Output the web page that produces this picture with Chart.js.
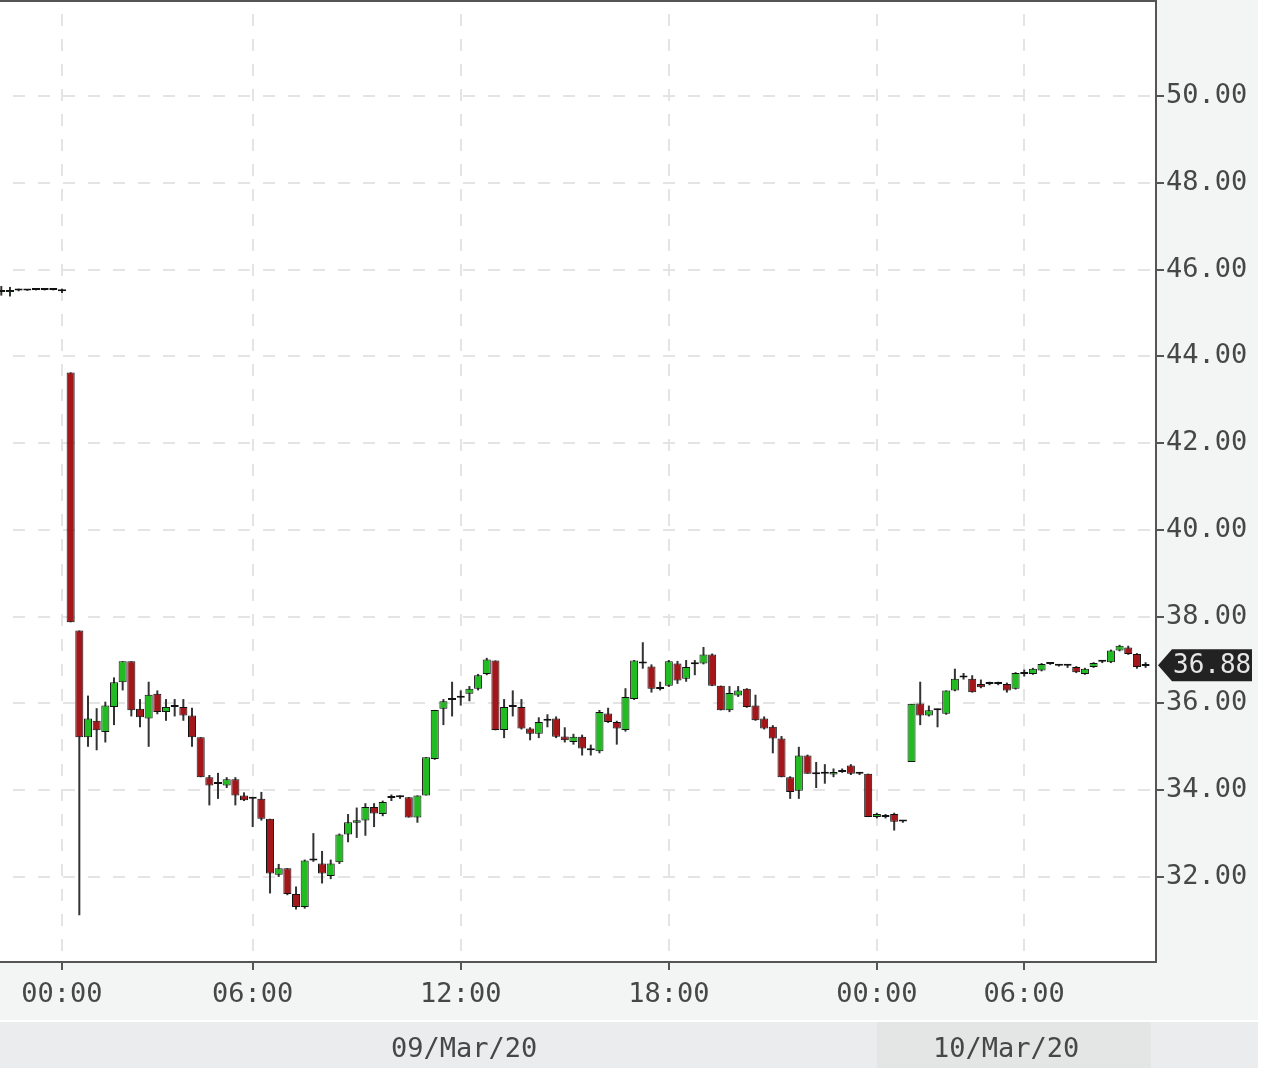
<!DOCTYPE html>
<html>
<head>
<meta charset="utf-8">
<script src="https://cdn.jsdelivr.net/npm/chart.js@4.4.1/dist/chart.umd.min.js"></script>
<style>
  html, body { margin: 0; padding: 0; background: #fff; }
  #wrap { position: relative; width: 1258px; height: 1068px; }
</style>
</head>
<body>
<div id="wrap"><canvas id="priceChart"></canvas></div>
<script>
// 15-minute candles; slot 0 is 00:00 on 09/Mar/20, one slot per candle
const firstSlot = -7;

const opens = [
  45.52, 45.48, 45.53, 45.52, 45.53, 45.54, 45.53, 45.53,
  43.63, 37.68, 35.22, 35.60, 35.34, 35.92, 36.49, 36.97, 35.88, 35.65,
  36.22, 35.80, 35.94, 35.92, 35.72, 35.22, 34.30, 34.15, 34.11, 34.25,
  33.88, 33.80, 33.80, 33.34, 32.05, 32.20, 31.61, 31.31, 32.38, 32.31,
  32.02, 32.34, 32.98, 33.25, 33.30, 33.61, 33.45, 33.82, 33.84, 33.84,
  33.37, 33.88, 34.72, 35.88, 36.08, 36.13, 36.22, 36.34, 36.68, 36.99,
  35.39, 35.92, 35.92, 35.42, 35.30, 35.60, 35.65, 35.24, 35.11, 35.23,
  34.94, 34.90, 35.77, 35.57, 35.39, 36.10, 36.95, 36.85, 36.33, 36.41,
  36.92, 36.57, 36.90, 36.92, 37.13, 36.41, 35.84, 36.18, 36.34, 35.95,
  35.65, 35.46, 35.19, 34.30, 33.99, 34.80, 34.38, 34.38, 34.36, 34.42,
  34.57, 34.38, 34.38, 33.38, 33.38, 33.45, 33.28, 34.65, 36.00, 35.72,
  35.84, 35.76, 36.30, 36.62, 36.57, 36.45, 36.45, 36.45, 36.45, 36.34,
  36.70, 36.68, 36.76, 36.91, 36.89, 36.87, 36.84, 36.68, 36.84, 36.96,
  36.95, 37.22, 37.29, 37.14, 36.86
];
const highs = [
  45.62, 45.60, 45.56, 45.55, 45.55, 45.55, 45.55, 45.56,
  43.63, 37.68, 36.18, 35.89, 36.04, 36.60, 36.97, 36.97, 36.10, 36.50,
  36.30, 36.10, 36.10, 36.10, 35.90, 35.22, 34.35, 34.40, 34.30, 34.30,
  33.95, 33.83, 33.96, 33.34, 32.30, 32.20, 31.78, 32.40, 33.01, 32.60,
  32.40, 33.00, 33.45, 33.60, 33.70, 33.70, 33.76, 33.90, 33.88, 33.84,
  33.88, 34.76, 35.85, 36.10, 36.50, 36.30, 36.40, 36.68, 37.05, 36.99,
  36.10, 36.30, 36.10, 35.45, 35.68, 35.75, 35.70, 35.45, 35.30, 35.28,
  35.05, 35.85, 35.90, 35.60, 36.35, 37.00, 37.41, 36.90, 36.50, 37.00,
  36.98, 37.00, 37.00, 37.30, 37.15, 36.41, 36.40, 36.40, 36.35, 36.20,
  35.70, 35.50, 35.25, 34.32, 35.00, 34.82, 34.65, 34.60, 34.50, 34.50,
  34.60, 34.42, 34.38, 33.48, 33.45, 33.48, 33.30, 35.99, 36.50, 35.95,
  35.88, 36.30, 36.80, 36.70, 36.65, 36.55, 36.50, 36.50, 36.48, 36.72,
  36.78, 36.82, 36.93, 36.93, 36.90, 36.90, 36.86, 36.82, 36.95, 36.99,
  37.24, 37.35, 37.33, 37.16, 36.95
];
const lows = [
  45.40, 45.38, 45.50, 45.51, 45.52, 45.52, 45.52, 45.46,
  37.87, 31.12, 35.00, 34.92, 35.10, 35.50, 36.30, 35.70, 35.45, 35.00,
  35.75, 35.60, 35.70, 35.60, 35.00, 34.30, 33.65, 33.80, 34.05, 33.65,
  33.75, 33.15, 33.30, 31.62, 32.00, 31.58, 31.25, 31.27, 32.35, 31.85,
  31.95, 32.30, 32.80, 32.90, 32.95, 33.15, 33.40, 33.75, 33.80, 33.37,
  33.25, 33.88, 34.70, 35.50, 35.70, 35.95, 36.05, 36.30, 36.65, 35.38,
  35.20, 35.70, 35.40, 35.15, 35.20, 35.45, 35.20, 35.10, 35.05, 34.80,
  34.80, 34.85, 35.55, 35.05, 35.35, 36.08, 36.80, 36.25, 36.30, 36.38,
  36.45, 36.50, 36.65, 36.90, 36.40, 35.84, 35.80, 36.15, 35.90, 35.60,
  35.40, 34.85, 34.30, 33.80, 33.80, 34.38, 34.05, 34.15, 34.30, 34.40,
  34.35, 34.35, 33.38, 33.35, 33.35, 33.07, 33.25, 34.65, 35.50, 35.70,
  35.45, 35.74, 36.28, 36.55, 36.25, 36.35, 36.42, 36.42, 36.25, 36.32,
  36.62, 36.66, 36.74, 36.89, 36.85, 36.82, 36.70, 36.66, 36.82, 36.93,
  36.93, 37.20, 37.12, 36.80, 36.82
];
const closes = [
  45.48, 45.53, 45.52, 45.53, 45.54, 45.53, 45.53, 45.50,
  37.87, 35.22, 35.65, 35.38, 35.95, 36.49, 36.97, 35.84, 35.68, 36.20,
  35.80, 35.92, 35.92, 35.72, 35.22, 34.30, 34.11, 34.14, 34.25, 33.88,
  33.77, 33.81, 33.34, 32.08, 32.20, 31.61, 31.31, 32.38, 32.38, 32.08,
  32.31, 32.98, 33.26, 33.31, 33.61, 33.46, 33.73, 33.84, 33.85, 33.37,
  33.88, 34.76, 35.85, 36.05, 36.11, 36.15, 36.34, 36.65, 37.01, 35.39,
  35.92, 35.93, 35.42, 35.30, 35.57, 35.62, 35.23, 35.15, 35.23, 34.96,
  34.92, 35.80, 35.57, 35.42, 36.15, 36.99, 36.92, 36.34, 36.36, 36.97,
  36.53, 36.84, 36.92, 37.13, 36.41, 35.84, 36.24, 36.30, 35.92, 35.61,
  35.42, 35.19, 34.30, 33.96, 34.80, 34.38, 34.37, 34.38, 34.42, 34.46,
  34.38, 34.38, 33.38, 33.45, 33.42, 33.27, 33.28, 35.99, 35.72, 35.84,
  35.84, 36.30, 36.57, 36.60, 36.26, 36.37, 36.45, 36.45, 36.30, 36.70,
  36.68, 36.80, 36.91, 36.91, 36.87, 36.87, 36.72, 36.80, 36.93, 36.97,
  37.22, 37.33, 37.14, 36.84, 36.88
];

const timeTickSlots  = [0, 22, 46, 70, 94, 111];
const timeTickLabels = ['00:00', '06:00', '12:00', '18:00', '00:00', '06:00'];
const dayLabelSlots  = [46.4, 108.9];
const dayLabels      = ['09/Mar/20', '10/Mar/20'];
const dayBreakSlot   = 94;
const lastDataSlot   = 125.6;
const priceTicks     = [32, 34, 36, 38, 40, 42, 44, 46, 48, 50];

const UP_COLOR   = '#22bb22';
const DOWN_COLOR = '#a3161a';
const AXIS_COLOR = '#555555';
const TEXT_COLOR = '#474747';
const MONO = '"DejaVu Sans Mono", monospace';

Chart.defaults.font.family = MONO;
Chart.defaults.font.size = 27;
Chart.defaults.color = TEXT_COLOR;

// ---- Build candle pieces ----
const bodies = opens.map((o, i) => ({ x: firstSlot + i, y: [o, closes[i]] }));
const wicks  = lows.map((l, i) => ({ x: firstSlot + i, y: [l, highs[i]] }));
const bodyColors = opens.map((o, i) => closes[i] >= o ? UP_COLOR : DOWN_COLOR);

// axis backgrounds behind everything, frame + last price tag on top
const panelPlugin = {
  id: 'panel',
  beforeDraw(chart) {
    const { ctx, chartArea: a, width } = chart;
    const band = chart.scales.xDate;
    ctx.save();
    ctx.fillStyle = '#f3f4f4';
    ctx.fillRect(0, a.bottom, width, band.top - a.bottom);
    ctx.fillRect(a.right, 0, width - a.right, a.bottom);
    ctx.fillStyle = '#ebeced';
    ctx.fillRect(0, band.top + 2, width, band.bottom - band.top - 2);
    const x0 = band.getPixelForValue(dayBreakSlot);
    const x1 = band.getPixelForValue(lastDataSlot);
    ctx.fillStyle = '#e4e5e5';
    ctx.fillRect(x0, band.top + 2, x1 - x0, band.bottom - band.top - 2);
    ctx.restore();
  },
  afterDraw(chart) {
    const { ctx, chartArea: a } = chart;
    ctx.save();
    ctx.strokeStyle = AXIS_COLOR;
    ctx.lineWidth = 2;
    ctx.beginPath();
    ctx.moveTo(a.left, a.top);
    ctx.lineTo(a.right, a.top);
    ctx.stroke();

    // last price tag
    const last = closes[closes.length - 1];
    const y = chart.scales.y.getPixelForValue(last);
    const x = a.right + 2;
    ctx.fillStyle = '#222222';
    ctx.beginPath();
    ctx.moveTo(x, y);
    ctx.lineTo(x + 14, y - 16);
    ctx.lineTo(x + 94, y - 16);
    ctx.lineTo(x + 94, y + 16);
    ctx.lineTo(x + 14, y + 16);
    ctx.closePath();
    ctx.fill();
    ctx.fillStyle = '#e6e6e6';
    ctx.font = '26px ' + MONO;
    ctx.textAlign = 'left';
    ctx.textBaseline = 'middle';
    ctx.fillText(last.toFixed(2), x + 15, y + 1);
    ctx.restore();
  }
};

new Chart(document.getElementById('priceChart'), {
  type: 'bar',
  data: {
    datasets: [
      {
        label: 'body',
        data: bodies,
        grouped: false,
        backgroundColor: bodyColors,
        borderColor: '#111111',
        borderWidth: 1,
        borderSkipped: false,
        categoryPercentage: 1,
        barPercentage: 0.93,
        minBarLength: 2
      },
      {
        label: 'wick',
        data: wicks,
        grouped: false,
        backgroundColor: '#333333',
        borderWidth: 0,
        maxBarThickness: 2,
        minBarLength: 1
      }
    ]
  },
  options: {
    responsive: true,
    maintainAspectRatio: false,
    animation: false,
    layout: { padding: { top: 1, left: 0, right: 0, bottom: 0 } },
    plugins: {
      legend: { display: false },
      tooltip: { enabled: false }
    },
    scales: {
      x: {
        type: 'linear',
        position: 'bottom',
        offset: false,
        min: -7.15,
        max: 126.2,
        weight: 0,
        afterBuildTicks: scale => { scale.ticks = timeTickSlots.map(v => ({ value: v })); },
        afterFit: scale => { scale.height = 58; scale.paddingLeft = 0; scale.paddingRight = 0; },
        ticks: {
          autoSkip: false,
          maxRotation: 0,
          padding: 9,
          callback: v => timeTickLabels[timeTickSlots.indexOf(v)]
        },
        grid: {
          offset: false,
          color: '#e4e4e4',
          lineWidth: 2,
          tickColor: AXIS_COLOR,
          tickWidth: 2,
          tickLength: 8
        },
        border: { color: AXIS_COLOR, width: 2, dash: [12, 13], dashOffset: 12 }
      },
      xDate: {
        type: 'linear',
        axis: 'x',
        position: 'bottom',
        offset: false,
        min: -7.15,
        max: 126.2,
        weight: 1,
        afterBuildTicks: scale => { scale.ticks = dayLabelSlots.map(v => ({ value: v })); },
        afterFit: scale => { scale.height = 48; scale.paddingLeft = 0; scale.paddingRight = 0; },
        ticks: {
          autoSkip: false,
          maxRotation: 0,
          padding: 14,
          callback: v => dayLabels[dayLabelSlots.indexOf(v)]
        },
        grid: { display: false, drawTicks: false, offset: false },
        border: { display: false }
      },
      y: {
        type: 'linear',
        position: 'right',
        min: 30.04,
        max: 52.19,
        afterBuildTicks: scale => { scale.ticks = priceTicks.map(v => ({ value: v })); },
        afterFit: scale => { scale.width = 102; scale.paddingTop = 0; scale.paddingBottom = 0; },
        ticks: {
          padding: 2,
          callback: v => Number(v).toFixed(2)
        },
        grid: {
          color: '#e4e4e4',
          lineWidth: 2,
          tickColor: AXIS_COLOR,
          tickWidth: 2,
          tickLength: 8
        },
        border: { color: AXIS_COLOR, width: 2, dash: [12, 13], dashOffset: 12 }
      }
    }
  },
  plugins: [panelPlugin]
});
</script>
</body>
</html>
